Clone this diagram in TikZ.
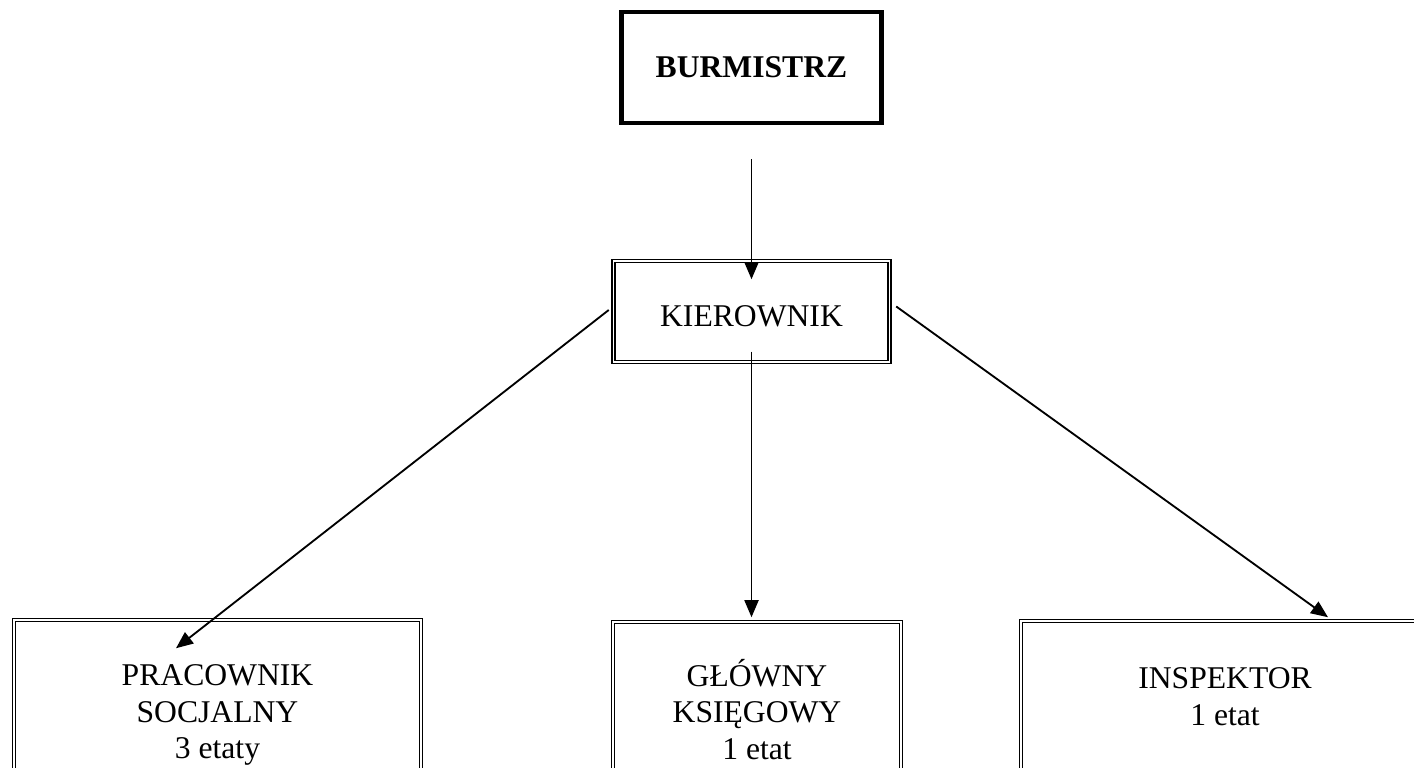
\documentclass[tikz,border=0pt]{standalone}
\usepackage{fontspec}
\setmainfont{Liberation Serif}
\usetikzlibrary{arrows.meta,calc}

\begin{document}
\begin{tikzpicture}[
	every node/.style={font=\fontsize{18}{21}\selectfont},
	chief/.style={draw, line width=2.3pt, minimum width=5.2cm, minimum height=2.22cm, align=center},
	unit/.style={draw, double, line width=0.85pt, double distance=0.6pt, align=center},
	link/.style={-{Triangle[length=0.34cm,width=0.28cm]}, line width=1.05pt}
	]
	\useasboundingbox (0,0) rectangle (28.28,15.36);
	\clip (0,0) rectangle (28.28,15.36);
	
	% Top level
	\node[chief] (burm) at (15.03,14.01) {\textbf{BURMISTRZ}};
	\node[unit, minimum width=5.52cm, minimum height=2.02cm, text height=0.62cm, text depth=0pt] (kier) at (15.03,9.13) {KIEROWNIK};
	
	% Staff
	\node[unit, minimum width=8.14cm, minimum height=3.8cm] (socj) at (4.35,1.06) {PRACOWNIK\\SOCJALNY\\3 etaty};
	\node[unit, minimum width=5.76cm, minimum height=3.5cm] (ksieg) at (15.14,1.17) {GŁÓWNY\\KSIĘGOWY\\1 etat};
	\node[unit, minimum width=8.16cm, minimum height=3.04cm] (insp) at (24.5,1.42) {INSPEKTOR\\1 etat};
	
	% Links
	\draw[link] ($(burm.south)+(0,-0.68)$) -- ($(kier.north)+(0,-0.38)$);
	\draw[link] ($(kier.south)+(0,0.22)$) -- ($(kier.south |- ksieg.north)+(0,0.08)$);
	\draw[link] ($(kier.west)+(-0.08,0.03)$) -- ($(socj.north)+(-0.83,-0.58)$);
	\draw[link] ($(kier.east)+(0.12,0.1)$) -- ($(insp.north)+(2.06,0.06)$);
\end{tikzpicture}
\end{document}
